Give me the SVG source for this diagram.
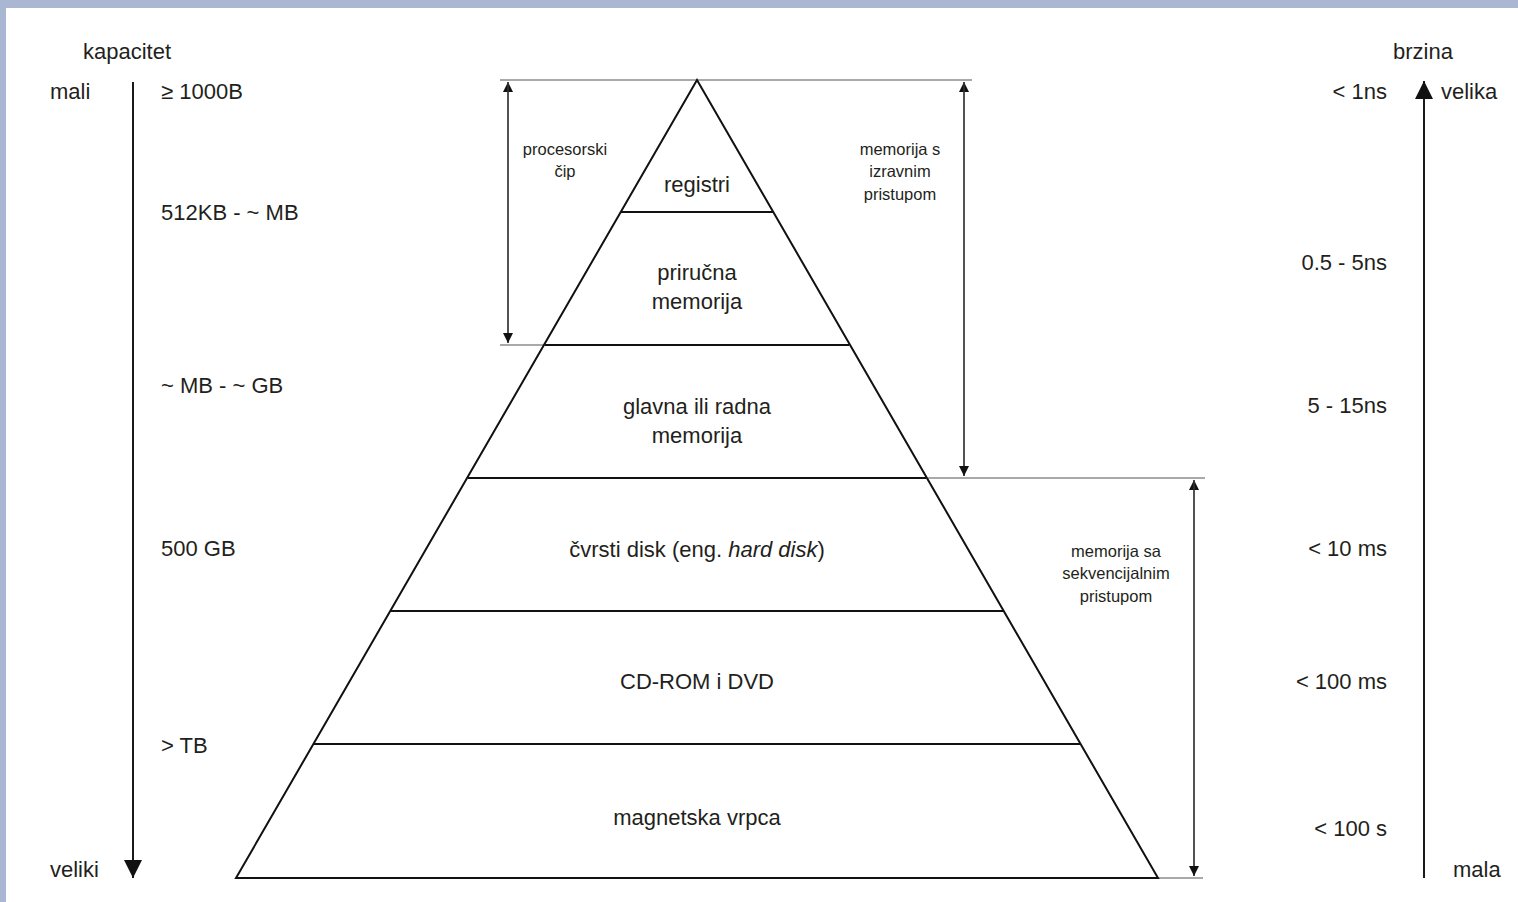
<svg xmlns="http://www.w3.org/2000/svg" width="1518" height="902" viewBox="0 0 1518 902">
<style>
text{font-family:"Liberation Sans",Arial,sans-serif;fill:#231f20}
.t{font-size:22px}
.s{font-size:16.5px;text-anchor:middle}
.c{text-anchor:middle}
.r{text-anchor:end}
.ext{stroke:#8c8c8c;stroke-width:1.5;fill:none}
.dim{stroke:#3a3a3a;stroke-width:1.3;fill:none}
.ax{stroke:#1a1a1a;stroke-width:2;fill:none}
.pyr{stroke:#111;stroke-width:2;fill:none}
</style>
<defs>
<marker id="sa" viewBox="0 0 10 10" refX="10" refY="5" markerWidth="10" markerHeight="10" markerUnits="userSpaceOnUse" orient="auto"><path d="M0,0 L10,5 L0,10 z" fill="#111"/></marker>
<marker id="ba" viewBox="0 0 10 10" refX="10" refY="5" markerWidth="18" markerHeight="20" markerUnits="userSpaceOnUse" orient="auto"><path d="M0,0 L10,5 L0,10 z" fill="#111"/></marker>
</defs>
<rect x="0" y="0" width="1518" height="902" fill="#fff"/>
<rect x="0" y="0" width="1518" height="8" fill="#aab7d2"/>
<rect x="0" y="0" width="6" height="902" fill="#aab7d2"/>
<g id="connectors">
<line class="ext" x1="500" y1="80" x2="972" y2="80"/>
<line class="ext" x1="500" y1="345" x2="546" y2="345"/>
<line class="ext" x1="928" y1="478" x2="1205" y2="478"/>
<line class="ext" x1="1158" y1="878" x2="1203" y2="878"/>
<line class="dim" x1="508" y1="343" x2="508" y2="82" marker-end="url(#sa)"/>
<line class="dim" x1="508" y1="82" x2="508" y2="343" marker-end="url(#sa)"/>
<line class="dim" x1="964" y1="476" x2="964" y2="82" marker-end="url(#sa)"/>
<line class="dim" x1="964" y1="82" x2="964" y2="476" marker-end="url(#sa)"/>
<line class="dim" x1="1194" y1="876" x2="1194" y2="480" marker-end="url(#sa)"/>
<line class="dim" x1="1194" y1="480" x2="1194" y2="876" marker-end="url(#sa)"/>
<line class="ax" x1="133" y1="82" x2="133" y2="878" marker-end="url(#ba)"/>
<line class="ax" x1="1424" y1="878" x2="1424" y2="81" marker-end="url(#ba)"/>
</g>
<g id="pyramid">
<path class="pyr" d="M697,80 L236,878 L1158,878 Z"/>
<line class="pyr" x1="621" y1="212" x2="773" y2="212"/>
<line class="pyr" x1="545" y1="345" x2="849" y2="345"/>
<line class="pyr" x1="468" y1="478" x2="926" y2="478"/>
<line class="pyr" x1="391" y1="611" x2="1003" y2="611"/>
<line class="pyr" x1="314" y1="744" x2="1080" y2="744"/>
</g>
<g id="registri"><text class="t c" x="697" y="192">registri</text></g>
<g id="prirucna"><text class="t c" x="697" y="280">priručna</text><text class="t c" x="697" y="309">memorija</text></g>
<g id="glavna"><text class="t c" x="697" y="414">glavna ili radna</text><text class="t c" x="697" y="443">memorija</text></g>
<g id="cvrsti"><text class="t c" x="697" y="557">čvrsti disk (eng. <tspan font-style="italic">hard disk</tspan>)</text></g>
<g id="cdrom"><text class="t c" x="697" y="689">CD-ROM i DVD</text></g>
<g id="magnetska"><text class="t c" x="697" y="825">magnetska vrpca</text></g>
<g id="procesorski"><text class="s" x="565" y="155">procesorski</text><text class="s" x="565" y="177">čip</text></g>
<g id="izravni"><text class="s" x="900" y="155">memorija s</text><text class="s" x="900" y="177">izravnim</text><text class="s" x="900" y="200">pristupom</text></g>
<g id="sekvencijalni"><text class="s" x="1116" y="557">memorija sa</text><text class="s" x="1116" y="579">sekvencijalnim</text><text class="s" x="1116" y="602">pristupom</text></g>
<g id="kapacitet">
<text class="t" x="83" y="59">kapacitet</text>
<text class="t" x="50" y="99">mali</text>
<text class="t" x="50" y="877">veliki</text>
<text class="t" x="161" y="99">≥ 1000B</text>
<text class="t" x="161" y="220">512KB - ~ MB</text>
<text class="t" x="161" y="393">~ MB - ~ GB</text>
<text class="t" x="161" y="556">500 GB</text>
<text class="t" x="161" y="753">&gt; TB</text>
</g>
<g id="brzina">
<text class="t" x="1393" y="59">brzina</text>
<text class="t" x="1441" y="99">velika</text>
<text class="t" x="1453" y="877">mala</text>
<text class="t r" x="1387" y="99">&lt; 1ns</text>
<text class="t r" x="1387" y="270">0.5 - 5ns</text>
<text class="t r" x="1387" y="413">5 - 15ns</text>
<text class="t r" x="1387" y="556">&lt; 10 ms</text>
<text class="t r" x="1387" y="689">&lt; 100 ms</text>
<text class="t r" x="1387" y="836">&lt; 100 s</text>
</g>
</svg>
